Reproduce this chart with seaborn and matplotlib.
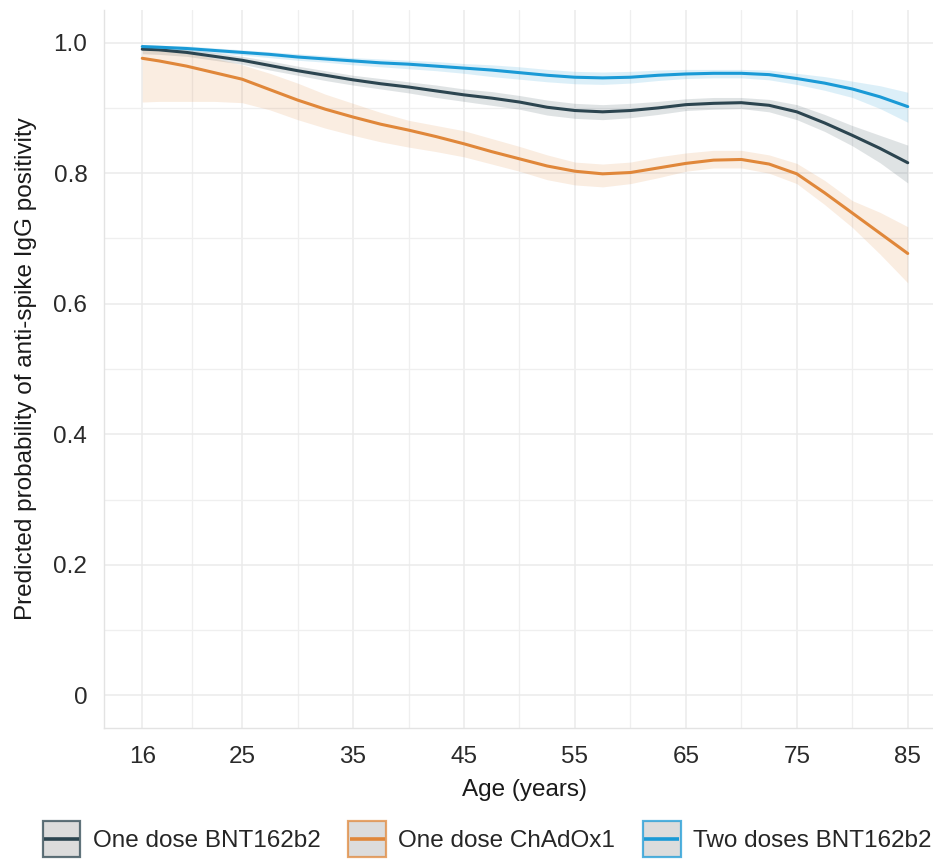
import numpy as np
import pandas as pd
import seaborn as sns
import matplotlib
matplotlib.use("Agg")
import matplotlib.pyplot as plt
from matplotlib.patches import Patch, Rectangle
from matplotlib.lines import Line2D
from matplotlib.colors import to_rgba

# Predicted probability of anti-spike IgG positivity by age, with 95% bands
ages = [16, 17.5, 20, 22.5, 25, 27.5, 30, 32.5, 35, 37.5, 40, 42.5, 45, 47.5, 50,
        52.5, 55, 57.5, 60, 62.5, 65, 67.5, 70, 72.5, 75, 77.5, 80, 82.5, 85]

bnt1_fit = [0.990, 0.989, 0.985, 0.979, 0.973, 0.965, 0.957, 0.950, 0.943, 0.937,
            0.932, 0.926, 0.920, 0.915, 0.909, 0.901, 0.896, 0.894, 0.896, 0.900,
            0.905, 0.907, 0.908, 0.904, 0.894, 0.877, 0.858, 0.838, 0.816]
bnt1_lo = [0.983, 0.982, 0.979, 0.973, 0.967, 0.958, 0.950, 0.942, 0.935, 0.929,
           0.923, 0.916, 0.910, 0.904, 0.898, 0.889, 0.884, 0.882, 0.885, 0.890,
           0.896, 0.898, 0.899, 0.894, 0.882, 0.864, 0.842, 0.816, 0.785]
bnt1_hi = [0.995, 0.994, 0.990, 0.985, 0.979, 0.972, 0.964, 0.957, 0.950, 0.945,
           0.940, 0.935, 0.929, 0.925, 0.919, 0.912, 0.907, 0.905, 0.907, 0.910,
           0.914, 0.916, 0.916, 0.913, 0.905, 0.890, 0.873, 0.858, 0.843]

chad_fit = [0.976, 0.972, 0.964, 0.954, 0.944, 0.928, 0.912, 0.898, 0.886, 0.875,
            0.866, 0.856, 0.845, 0.833, 0.822, 0.811, 0.803, 0.799, 0.801, 0.808,
            0.815, 0.820, 0.821, 0.814, 0.799, 0.770, 0.739, 0.708, 0.677]
chad_lo = [0.909, 0.910, 0.910, 0.910, 0.908, 0.897, 0.882, 0.869, 0.858, 0.848,
           0.840, 0.833, 0.825, 0.814, 0.803, 0.790, 0.782, 0.779, 0.784, 0.793,
           0.803, 0.808, 0.808, 0.800, 0.784, 0.752, 0.717, 0.676, 0.632]
chad_hi = [0.993, 0.991, 0.985, 0.976, 0.966, 0.953, 0.938, 0.921, 0.907, 0.893,
           0.881, 0.873, 0.865, 0.853, 0.841, 0.828, 0.817, 0.814, 0.817, 0.825,
           0.831, 0.835, 0.835, 0.828, 0.815, 0.789, 0.758, 0.740, 0.718]

two_fit = [0.994, 0.993, 0.991, 0.988, 0.985, 0.982, 0.978, 0.975, 0.972, 0.969,
           0.967, 0.964, 0.961, 0.958, 0.954, 0.950, 0.947, 0.946, 0.947, 0.950,
           0.952, 0.953, 0.953, 0.951, 0.945, 0.938, 0.929, 0.917, 0.902]
two_lo = [0.990, 0.989, 0.987, 0.984, 0.981, 0.977, 0.973, 0.970, 0.966, 0.963,
          0.960, 0.957, 0.953, 0.948, 0.944, 0.940, 0.937, 0.936, 0.938, 0.942,
          0.945, 0.946, 0.946, 0.943, 0.936, 0.927, 0.916, 0.899, 0.878]
two_hi = [0.997, 0.996, 0.995, 0.992, 0.989, 0.986, 0.983, 0.980, 0.977, 0.975,
          0.973, 0.971, 0.968, 0.966, 0.963, 0.959, 0.956, 0.955, 0.956, 0.958,
          0.959, 0.959, 0.959, 0.958, 0.953, 0.948, 0.941, 0.934, 0.924]

groups = ["One dose BNT162b2", "One dose ChAdOx1", "Two doses BNT162b2"]
colors = ["#2C4550", "#E0873A", "#1A9AD6"]

x_ticks = [16, 25, 35, 45, 55, 65, 75, 85]
x_minor = [20.5, 30, 40, 50, 60, 70, 80]
y_ticks = [0, 0.2, 0.4, 0.6, 0.8, 1.0]
y_labels = ["0", "0.2", "0.4", "0.6", "0.8", "1.0"]
y_minor = [0.1, 0.3, 0.5, 0.7, 0.9]

series = {
    groups[0]: (bnt1_fit, bnt1_lo, bnt1_hi),
    groups[1]: (chad_fit, chad_lo, chad_hi),
    groups[2]: (two_fit, two_lo, two_hi),
}
df = pd.concat(
    [pd.DataFrame({"age": ages, "prob": f, "lo": lo, "hi": hi, "group": g})
     for g, (f, lo, hi) in series.items()],
    ignore_index=True,
)


class RibbonKey:
    """Legend key: grey box outlined in the series colour with a centred line."""

    def legend_artist(self, legend, orig_handle, fontsize, handlebox):
        c = orig_handle.get_edgecolor()
        x0, y0 = -handlebox.xdescent, -handlebox.ydescent
        w, h = handlebox.width, handlebox.height
        tr = handlebox.get_transform()
        rect = Rectangle((x0, y0), w, h, facecolor="#DCDCDC",
                         edgecolor=(c[0], c[1], c[2], 0.75), linewidth=1.6,
                         transform=tr)
        line = Line2D([x0 + 1, x0 + w - 1], [y0 + h / 2, y0 + h / 2],
                      color=(c[0], c[1], c[2], 1.0), linewidth=2.6,
                      solid_capstyle="butt", transform=tr)
        handlebox.add_artist(rect)
        handlebox.add_artist(line)
        return rect


sns.set_theme(style="white")
plt.rcParams["font.family"] = ["Liberation Sans", "DejaVu Sans"]
FS = 17.5

fig = plt.figure(figsize=(9.33, 8.6), dpi=100)
W, H = 933, 860
left, right, top, bottom = 104, 946, 10, 728
ax = fig.add_axes([left / W, (H - bottom) / H, (right - left) / W, (bottom - top) / H])

palette = dict(zip(groups, colors))
for g in groups:
    d = df[df["group"] == g]
    ax.fill_between(d["age"], d["lo"], d["hi"], color=palette[g], alpha=0.15,
                    linewidth=0, zorder=2)
sns.lineplot(data=df, x="age", y="prob", hue="group", hue_order=groups,
             palette=palette, linewidth=2.2, ax=ax, legend=False, zorder=3,
             estimator=None, sort=True)
for ln in ax.lines:
    ln.set_solid_joinstyle("round")

ax.set_xlim(12.55, 88.45)
ax.set_ylim(-0.05, 1.05)
ax.set_xticks(x_ticks)
ax.set_xticks(x_minor, minor=True)
ax.set_yticks(y_ticks)
ax.set_yticklabels(y_labels)
ax.set_yticks(y_minor, minor=True)
ax.grid(True, which="major", color="#EBEBEB", linewidth=1.1, zorder=0)
ax.grid(True, which="minor", color="#EFEFEF", linewidth=0.9, zorder=0)
ax.set_axisbelow(True)
ax.tick_params(axis="both", which="both", length=0, labelsize=FS,
               labelcolor="#2A2A2A")
ax.tick_params(axis="x", pad=13)
ax.tick_params(axis="y", pad=12)
for side in ["top", "right"]:
    ax.spines[side].set_visible(False)
for side in ["left", "bottom"]:
    ax.spines[side].set_color("#E3E3E3")
    ax.spines[side].set_linewidth(1.0)

ax.set_xlabel("Age (years)", fontsize=FS, color="#1A1A1A", labelpad=8)
ax.set_ylabel("Predicted probability of anti-spike IgG positivity", fontsize=FS,
              color="#1A1A1A", labelpad=12)

handles = [Patch(edgecolor=to_rgba(c)) for c in colors]
fig.legend(handles, groups, handler_map={Patch: RibbonKey()},
           loc="center", bbox_to_anchor=(487 / W, (H - 839) / H), ncol=3,
           frameon=False, fontsize=FS, handlelength=1.55, handleheight=1.85,
           handletextpad=0.5, columnspacing=1.15, borderaxespad=0,
           borderpad=0)

fig.savefig("out.png", dpi=100)
